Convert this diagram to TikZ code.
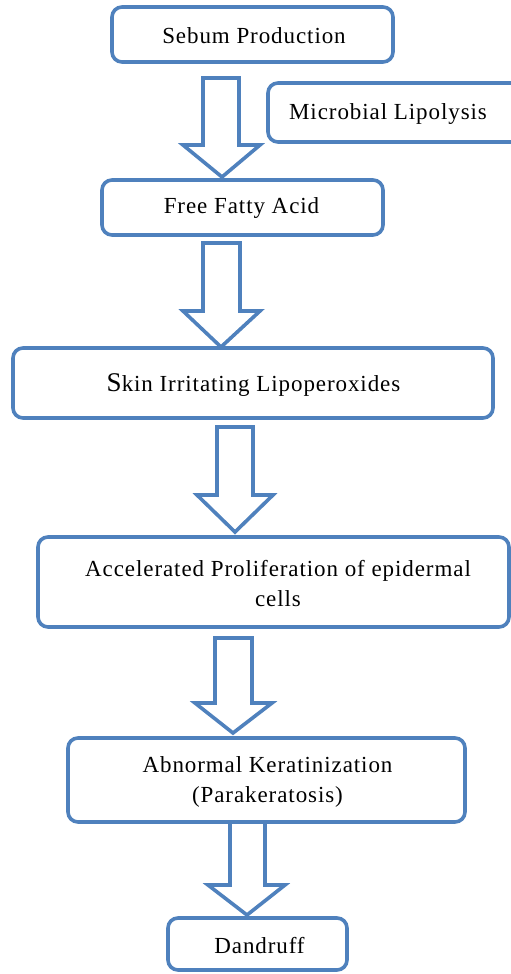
\documentclass[tikz,border=0pt]{standalone}
\usepackage{fontspec}
\setmainfont{Liberation Serif}[LetterSpace=4]
\definecolor{boxblue}{HTML}{4F81BD}
\begin{document}
\begin{tikzpicture}[x=1pt,y=-1pt,
  box/.style={draw=boxblue, line width=3.6pt, rounded corners=10pt, fill=white, inner sep=0pt},
  lbl/.style={font=\fontsize{23}{30}\selectfont, align=center, text=black, inner sep=0pt},
  barrow/.style={draw=boxblue, line width=3.6pt, fill=white, line join=miter}]
\clip (0,0) rectangle (511,974);
\fill[white] (0,0) rectangle (511,974);
% boxes
\node[box, minimum width=281pt, minimum height=55pt] (b1) at (252.5,34.5) {};
\node[box, minimum width=254pt, minimum height=59pt] (bm) at (395,112.5) {};
\node[box, minimum width=281pt, minimum height=55pt] (b2) at (242.5,207.5) {};
\node[box, minimum width=480pt, minimum height=70pt] (b3) at (253,383) {};
\node[box, minimum width=471pt, minimum height=90pt] (b4) at (273.5,582) {};
\node[box, minimum width=397pt, minimum height=84pt] (b5) at (266.5,780) {};
\node[box, minimum width=179pt, minimum height=52pt] (b6) at (257.5,944) {};
% labels
\node[lbl] (t1) at (254,36) {Sebum Production};
\node[lbl] (tm) at (388,114) {Microbial Lipolysis};
\node[lbl] (t2) at (241.5,208) {Free Fatty Acid};
\node[lbl] (t3) at (253.5,385) {{\fontsize{27}{30}\selectfont S}kin Irritating Lipoperoxides};
\node[lbl] (t4) at (278,584) {Accelerated Proliferation of epidermal\\cells};
\node[lbl] (t5) at (267.5,782) {Abnormal Keratinization\\(Parakeratosis)};
\node[lbl] (t6) at (259.5,946) {Dandruff};
% block arrows
\draw[barrow] (203,78) -- (239,78) -- (239,145) -- (260,145) -- (222,177) -- (183,145) -- (203,145) -- cycle;
\draw[barrow] (203,243) -- (240,243) -- (240,311) -- (260,311) -- (221,347) -- (183,311) -- (203,311) -- cycle;
\draw[barrow] (217,427) -- (253,427) -- (253,495) -- (273,495) -- (235,532) -- (197,495) -- (217,495) -- cycle;
\draw[barrow] (215,638) -- (252,638) -- (252,703) -- (272,703) -- (233,733) -- (195,703) -- (215,703) -- cycle;
\draw[barrow] (230,822) -- (265,822) -- (265,885) -- (285,885) -- (247,915) -- (208,885) -- (230,885) -- cycle;
\end{tikzpicture}
\end{document}
